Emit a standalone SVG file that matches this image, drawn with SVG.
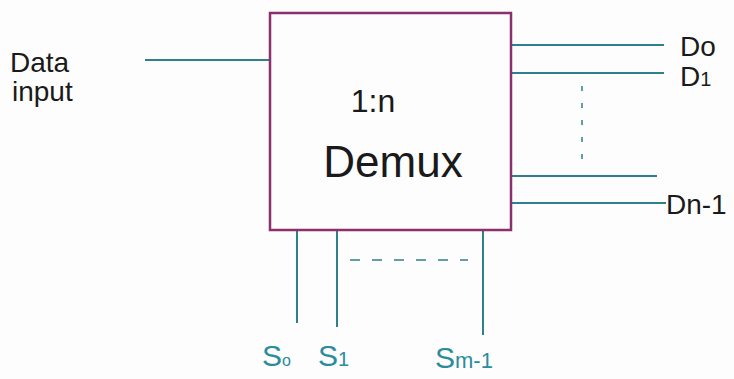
<svg xmlns="http://www.w3.org/2000/svg" width="734" height="379" viewBox="0 0 734 379">
<style>
.w{stroke:#2f7f8c;stroke-width:2;fill:none}
.d{stroke:#2f7f8c;stroke-width:1.5;stroke-dasharray:10 12;fill:none}
.t{font-family:"Liberation Sans",Arial,sans-serif;fill:#1a1a1a}
.s{font-family:"Liberation Sans",Arial,sans-serif;fill:#2a8c9c}
</style>
<rect width="734" height="379" fill="#fdfdfd"/>
<g id="connectors">
<line class="w" x1="145" y1="60" x2="270" y2="60"/>
<line class="w" x1="512" y1="45" x2="664" y2="45"/>
<line class="w" x1="512" y1="73" x2="664" y2="73"/>
<line class="w" x1="512" y1="176" x2="657" y2="176"/>
<line class="w" x1="512" y1="203" x2="666" y2="203"/>
<line class="d" x1="582" y1="86" x2="582" y2="166" style="stroke-dasharray:5 12"/>
<line class="w" x1="297" y1="230" x2="297" y2="323"/>
<line class="w" x1="337" y1="230" x2="337" y2="327"/>
<line class="w" x1="483" y1="230" x2="483" y2="335"/>
<line class="d" x1="350" y1="260" x2="468" y2="260"/>
</g>
<g id="demux">
<rect x="270" y="13" width="241" height="217" fill="none" stroke="#8c2f6e" stroke-width="2.5"/>
<text class="t" x="373" y="112" font-size="32" text-anchor="middle">1:n</text>
<text class="t" x="393" y="177" font-size="44" text-anchor="middle">Demux</text>
</g>
<g id="labels">
<text class="t" x="10" y="72" font-size="28">Data</text>
<text class="t" x="12" y="101" font-size="28">input</text>
<text class="t" x="680" y="56" font-size="28">Do</text>
<text class="t" x="680" y="86" font-size="28">D<tspan font-size="20">1</tspan></text>
<text class="t" x="666" y="214" font-size="28">Dn-1</text>
<text class="s" x="262" y="366" font-size="30">S<tspan font-size="16">o</tspan></text>
<text class="s" x="318" y="366" font-size="30">S<tspan font-size="20">1</tspan></text>
<text class="s" x="435" y="368" font-size="30">S<tspan font-size="22">m-1</tspan></text>
</g>
</svg>
